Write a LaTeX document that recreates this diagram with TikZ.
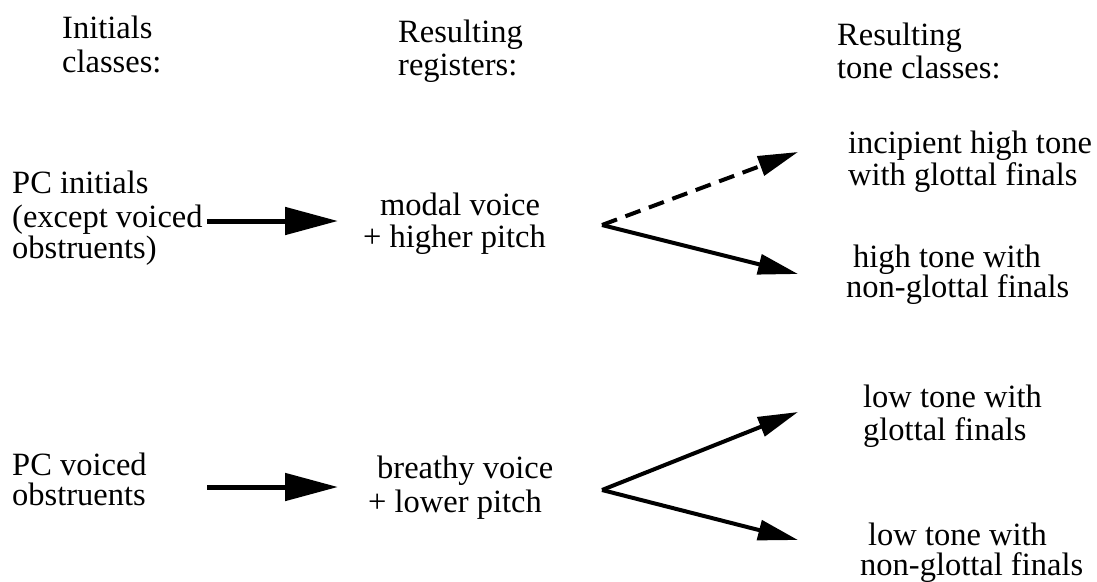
\documentclass[tikz,border=0pt]{standalone}
\usepackage{fontspec}
\setmainfont{Liberation Serif}
\usetikzlibrary{arrows.meta}
\begin{document}
\begin{tikzpicture}[x=1pt,y=-1pt,
  lbl/.style={anchor=base west,inner sep=0pt,font=\fontsize{32.5}{33}\selectfont},
  bigarrow/.style={line width=5pt,-{Triangle[length=53pt,width=27pt]}},
  forkarrow/.style={line width=4pt,line join=miter,-{Triangle[length=40pt,width=20pt]}},
  dasharrow/.style={forkarrow,dash pattern=on 16pt off 9pt}]
\useasboundingbox (0,0) rectangle (1097,581);
% column headers
\node[lbl] (ic1) at (62,38) {Initials};
\node[lbl] (ic2) at (62,72) {classes:};
\node[lbl] (rr1) at (398,42) {Resulting};
\node[lbl] (rr2) at (398,75) {registers:};
\node[lbl] (rt1) at (837,45) {Resulting};
\node[lbl] (rt2) at (837,78) {tone classes:};
% left column
\node[lbl] (p1) at (12,193) {PC initials};
\node[lbl] (p2) at (12,227) {(except voiced};
\node[lbl] (p3) at (12,258) {obstruents)};
\node[lbl] (v1) at (12,475) {PC voiced};
\node[lbl] (v2) at (12,505) {obstruents};
% middle column
\node[lbl] (m1) at (380,215) {modal voice};
\node[lbl] (m2) at (363,247) {+ higher pitch};
\node[lbl] (b1) at (377,478) {breathy voice};
\node[lbl] (b2) at (368,512) {+ lower pitch};
% right column
\node[lbl] (t1) at (848,153) {incipient high tone};
\node[lbl] (t2) at (848,185) {with glottal finals};
\node[lbl] (t3) at (853,267) {high tone with};
\node[lbl] (t4) at (846,297) {non-glottal finals};
\node[lbl] (t5) at (863,407) {low tone with};
\node[lbl] (t6) at (863,440) {glottal finals};
\node[lbl] (t7) at (868,545) {low tone with};
\node[lbl] (t8) at (860,575) {non-glottal finals};
% connector points
\coordinate (a1s) at (207,221);
\coordinate (a1e) at (338,221);
\coordinate (a2s) at (207,487);
\coordinate (a2e) at (338,487);
\coordinate (f1) at (602,225);
\coordinate (f1u) at (798,152);
\coordinate (f1d) at (798,274);
\coordinate (f2) at (602,490);
\coordinate (f2u) at (798,412);
\coordinate (f2d) at (798,540);
% connectors
\draw[bigarrow] (a1s) -- (a1e);
\draw[bigarrow] (a2s) -- (a2e);
\draw[dasharrow] (f1) -- (f1u);
\draw[forkarrow] (f1) -- (f1d);
\draw[forkarrow] (f2) -- (f2u);
\draw[forkarrow] (f2) -- (f2d);
\end{tikzpicture}
\end{document}
